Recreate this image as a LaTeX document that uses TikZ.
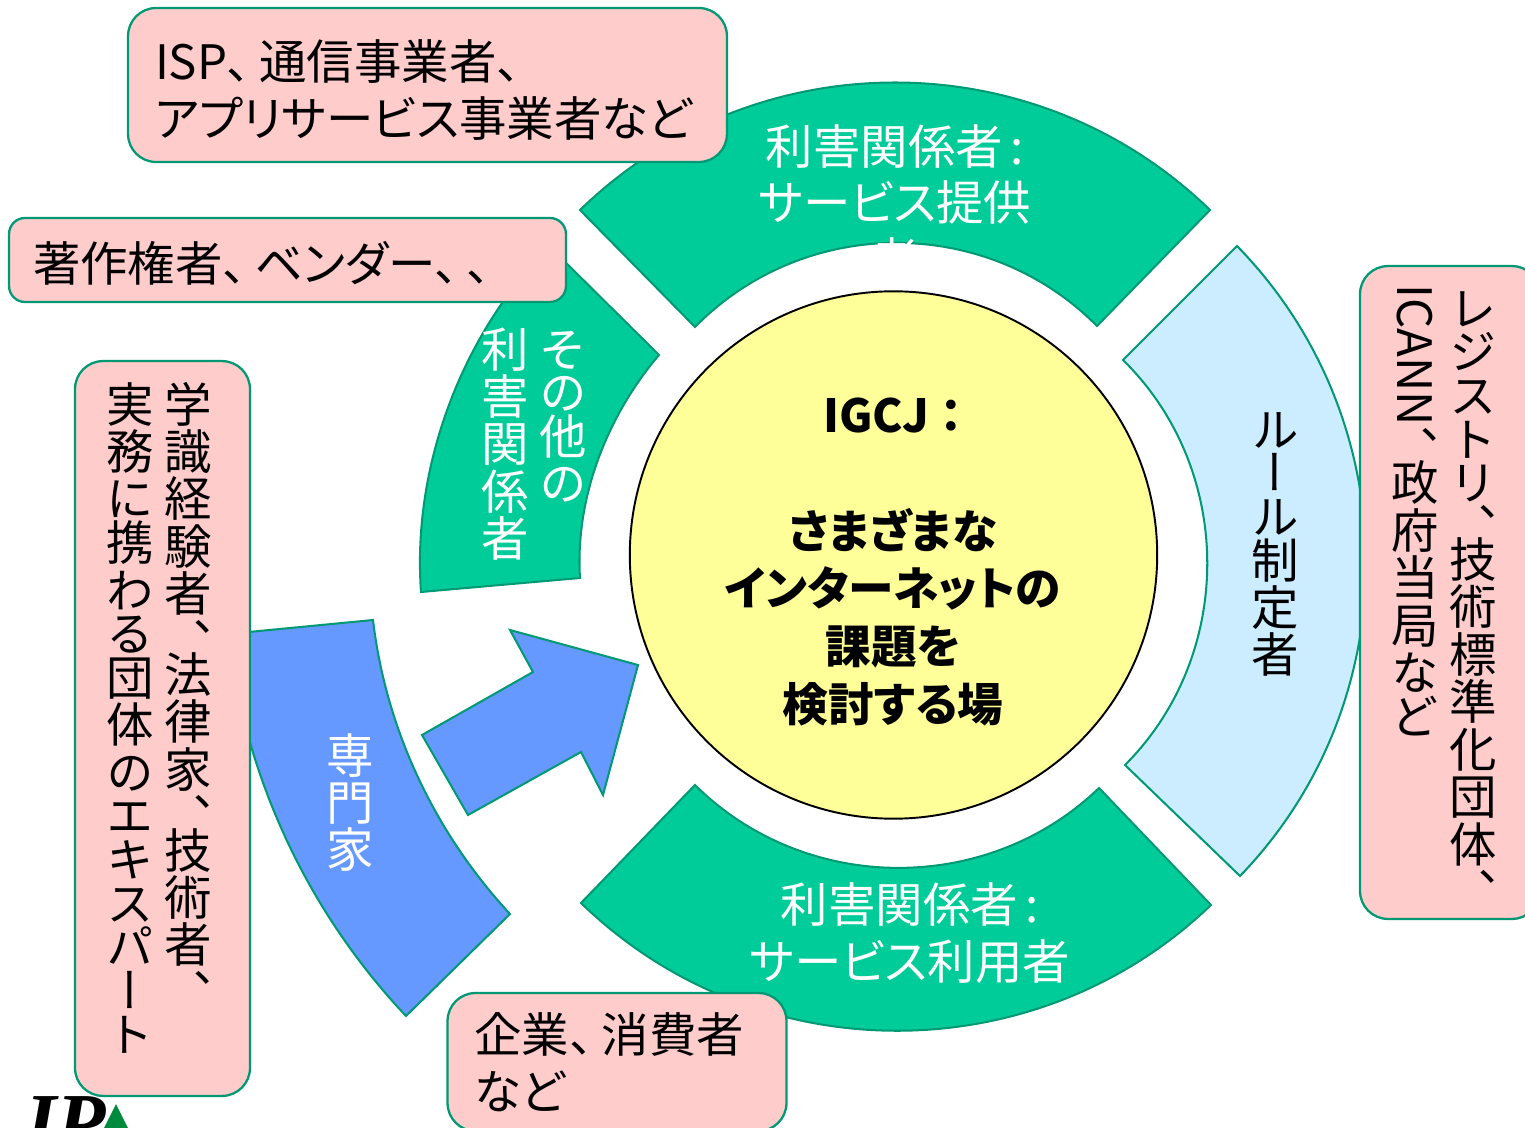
\documentclass[tikz,border=0pt]{standalone}
\usepackage{fontspec}
\setmainfont[RawFeature=+palt]{Noto Sans CJK JP}
\newfontfamily\tatefont[RawFeature=+vert]{Noto Sans CJK JP}
\newfontfamily\logofont{Liberation Serif}
\definecolor{ringgreen}{RGB}{0,204,153}
\definecolor{ringline}{RGB}{0,153,115}
\definecolor{boxpink}{RGB}{255,204,204}
\definecolor{paleblue}{RGB}{204,236,255}
\definecolor{midblue}{RGB}{102,153,255}
\definecolor{coreyellow}{RGB}{255,255,153}
\definecolor{logogreen}{RGB}{0,138,62}
\newcommand\ten{、\kern.18em}
% vertical setting: one cell per character
\makeatletter
\def\tateten{、}
\newcommand\tatecell[2]{\vbox to #1em{\kern.88em\hbox to 1em{\hss\smash{#2}\hss}\vss}}
\newcommand\tateline[2][]{\vtop{\offinterlineskip\null
  \hbox to 1em{\hss #1\hss}%
  \@tfor\tatechar:=#2\do{%
    \ifx\tatechar\tateten \tatecell{.7}{\tatechar}%
    \else\ifnum\expandafter`\tatechar<"3100 \tatecell{.92}{\tatechar}%
    \else \tatecell{1}{\tatechar}\fi\fi}}}
\makeatother
\tikzset{
  segment/.style={draw=ringline,line width=1.15pt,line join=miter},
  note/.style={draw=ringline,fill=boxpink,line width=1.3pt,rounded corners=0.56cm,
    font=\fontsize{27}{32.4}\selectfont,align=left},
  ringtext/.style={font=\fontsize{27}{32.4}\selectfont,align=center},
  tatetext/.style={font=\fontsize{27}{32.4}\selectfont\tatefont,inner sep=0pt,anchor=north},
}
\begin{document}
\begin{tikzpicture}[x=0.02cm,y=-0.02cm]
  \useasboundingbox (0,0) rectangle (1525,1128);
  \clip (0,0) rectangle (1525,1128);

  % ring
  \draw[segment,fill=ringgreen] (580,210) .. controls (755,40) and (1035,40) .. (1210,210)
    -- (1097,326) .. controls (987,215) and (805,215) .. (695,327) -- cycle;
  \draw[segment,fill=ringgreen] (581,903) .. controls (756,1073) and (1036,1073) .. (1211,905)
    -- (1099,788) .. controls (988,895) and (806,895) .. (695,785) -- cycle;
  \draw[segment,fill=paleblue] (1237,246) .. controls (1408,421) and (1409,701) .. (1240,876)
    -- (1125,765) .. controls (1235,655) and (1235,470) .. (1123,360) -- cycle;
  \draw[segment,fill=ringgreen] (549,246) .. controls (461,336) and (412,467) .. (421,592)
    -- (580,578) .. controls (575,498) and (607,416) .. (659,355) -- cycle;
  \draw[segment,fill=midblue] (228,634) -- (373,620) .. controls (386,730) and (435,833) .. (510,914)
    -- (406,1016) .. controls (307,911) and (245,777) .. (228,634) -- cycle;
  \draw[segment,fill=midblue] (638,665) -- (510,630) -- (533,672) -- (422,735)
    -- (468,815) -- (581,752) -- (603,795) -- cycle;

  % ring labels
  \node[ringtext,white,anchor=north] (provider) at (895,118) {利害関係者\,:\\サービス提供\\者};
  \node[ringtext,white] (user) at (910,933) {利害関係者\,:\\サービス利用者};
  \node[tatetext,white] (others) at (534,325) {\hbox{\tateline{利害関係者}\kern5.9pt\tateline{その他の}}};
  \node[tatetext,white] (expert) at (350,731) {\hbox{\tateline{専門家}}};
  \node[tatetext,black] (rulemaker) at (1275,405) {\hbox{\tateline{ルール制定者}}};

  % centre
  \node[circle,draw=black,fill=coreyellow,line width=1.1pt,minimum size=10.55cm,inner sep=0pt] (core) at (893.5,555) {};
  \node[font=\fontsize{26}{32.9}\selectfont\bfseries,align=center,inner sep=0pt] (corelabel) at (893,562)
    {IGCJ ：\\[0pt] \\さまざまな\\インターネットの\\課題を\\検討する場};

  % notes
  \node[note,minimum height=3.08cm,text width=10.9cm,inner xsep=0.54cm] (isp) at (427.5,85)
    {\rule{0pt}{1.05em}ISP\ten 通信事業者\ten\\アプリサービス事業者など};
  \node[note,rounded corners=0.32cm,minimum height=1.68cm,text width=10.18cm,inner xsep=0.48cm] (rights) at (287.5,260)
    {\rule{0pt}{.97em}著作権者\ten ベンダー\ten\ten};
  \node[note,minimum height=2.76cm,text width=5.7cm,inner xsep=0.54cm] (firms) at (617,1062)
    {企業\ten 消費者\\など};
  \node[note,minimum width=3.5cm,minimum height=14.7cm] (scholars) at (162.5,728.5) {};
  \node[tatetext] (scholarstext) at (159,380)
    {\hbox{\tateline{実務に携わる団体のエキスパート}\kern5.9pt\tateline{学識経験者、法律家、技術者、}}};
  \node[note,minimum width=3.6cm,minimum height=13.06cm] (registry) at (1450,592.5) {};
  \node[tatetext] (registrytext) at (1444,284)
    {\hbox{\tateline[\rotatebox{-90}{ICANN}]{、政府当局など}\kern5.9pt\tateline{レジストリ、技術標準化団体、}}};

  % logo
  \node[font=\logofont\fontsize{46}{46}\selectfont\bfseries\itshape,inner sep=0pt,anchor=north west] (logo) at (25,1096) {IP};
  \fill[logogreen] (116,1104) -- (103,1130) -- (129,1130) -- cycle;
\end{tikzpicture}
\end{document}
